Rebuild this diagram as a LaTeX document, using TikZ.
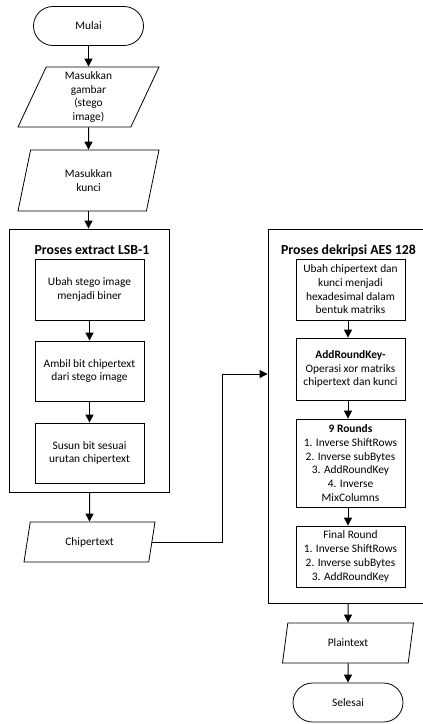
\documentclass[tikz,border=0pt]{standalone}
\usepackage{fontspec}
\setmainfont{Carlito}
\usepackage{tikz}
\usetikzlibrary{shapes,arrows.meta,positioning}

\tikzset{
    terminal/.style={draw, line width=0.8pt, rounded corners=19.5pt, minimum width=110pt, minimum height=39pt},
    io/.style={draw, line width=0.8pt, trapezium, trapezium left angle=62, trapezium right angle=118,
        trapezium stretches body, align=center, inner sep=1pt},
    kotak/.style={draw, line width=0.8pt, minimum width=109pt, align=center, inner sep=2pt},
    wadah/.style={draw, line width=0.9pt},
    judul/.style={font=\fontsize{13.8}{16}\selectfont\bfseries},
    flow/.style={-{Triangle[width=8pt,length=8pt]}, line width=1pt}
}

\begin{document}
\begin{tikzpicture}[x=1pt, y=-1pt, font=\fontsize{11.4}{13.7}\selectfont]
    \useasboundingbox (0,0) rectangle (423,724);

    % Kolom kiri
    \node (mulai) at (88.5,26) [terminal] {Mulai};
    \node (gambar) at (88.5,97) [io, minimum width=141pt, minimum height=60pt] {Masukkan\\gambar\\(stego\\image)};
    \node (kunci) at (88.5,180.5) [io, minimum width=141pt, minimum height=61pt] {Masukkan\\kunci};

    % Proses extract LSB-1
    \node (lsb) at (89.5,360.5) [wadah, minimum width=160pt, minimum height=263pt] {};
    \node (judul1) at (92,250) [judul] {Proses extract LSB-1};
    \node (biner) at (89.5,289.5) [kotak, minimum height=61pt] {Ubah stego image\\menjadi biner};
    \node (ambil) at (89.5,371) [kotak, minimum height=60pt] {Ambil bit chipertext\\dari stego image};
    \node (susun) at (89.5,453) [kotak, minimum height=60pt] {Susun bit sesuai\\urutan chipertext};

    \node (chiper) at (89.5,542) [io, minimum width=131pt, minimum height=40pt] {Chipertext};

    % Proses dekripsi AES 128
    \node (aes) at (348,416) [wadah, minimum width=160pt, minimum height=374pt] {};
    \node (judul2) at (348.5,251) [judul] {Proses dekripsi AES 128};
    \node (hexa) at (350.5,289.5) [kotak, minimum height=61pt] {Ubah chipertext dan\\kunci menjadi\\hexadesimal dalam\\bentuk matriks};
    \node (xor) at (350.5,369) [kotak, minimum height=62pt] {\textbf{AddRoundKey-}\\Operasi xor matriks\\chipertext dan kunci};
    \node (ronde) at (350.5,463) [kotak, minimum height=88pt] {\textbf{9 Rounds}\\1. Inverse ShiftRows\\2. Inverse subBytes\\3. AddRoundKey\\4. Inverse\\MixColumns};
    \node (final) at (350.5,556.5) [kotak, minimum height=61pt] {Final Round\\1. Inverse ShiftRows\\2. Inverse subBytes\\3. AddRoundKey};

    \node (plain) at (348,643) [io, minimum width=131pt, minimum height=40pt] {Plaintext};
    \node (selesai) at (348,702.5) [terminal] {Selesai};

    % Panah
    \draw[flow] (mulai) -- (gambar);
    \draw[flow] (gambar) -- (kunci);
    \draw[flow] (kunci.south) -- (kunci.south |- lsb.north);
    \draw[flow] (biner) -- (ambil);
    \draw[flow] (ambil) -- (susun);
    \draw[flow] (lsb) -- (chiper);
    \coordinate (belok) at (222,374);
    \draw[flow] (chiper.east) -| (belok) -- (aes.west |- belok);
    \draw[flow] (hexa.south -| plain) -- (xor.north -| plain);
    \draw[flow] (xor.south -| plain) -- (ronde.north -| plain);
    \draw[flow] (ronde.south -| plain) -- (final.north -| plain);
    \draw[flow] (plain |- aes.south) -- (plain);
    \draw[flow] (plain) -- (selesai);
\end{tikzpicture}
\end{document}
